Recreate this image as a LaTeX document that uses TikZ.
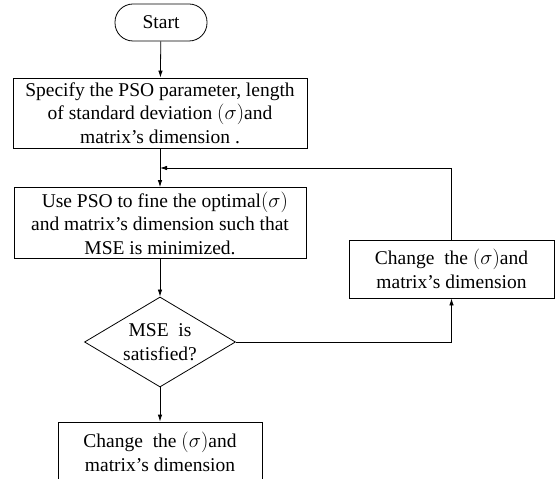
\documentclass[tikz,border=0pt]{standalone}
\usepackage{amsmath}
\usepackage{fontspec}
\setmainfont{Liberation Serif}
\usetikzlibrary{arrows.meta,shapes.geometric}

\begin{document}
\begin{tikzpicture}[x=1bp,y=-1bp,font=\fontsize{19.5bp}{23.5bp}\selectfont,
	>={Latex[length=7bp,width=4.5bp]},line width=0.8bp,
	box/.style={draw,align=center,inner sep=0pt},
	test/.style={draw,diamond,aspect=1.68,inner sep=0pt,align=center,minimum width=151bp,minimum height=90bp}]
	\useasboundingbox (0,0) rectangle (555,479);
	\clip (0,0) rectangle (555,479);
	\node[box,rounded corners=18bp,minimum width=92bp,minimum height=37bp] (start) at (161,22.5) {Start};
	\node[box,minimum width=294bp,minimum height=70bp] (spec) at (160,113)
		{Specify the PSO parameter, length\\ of standard deviation $(\sigma)$and\\ matrix's dimension .};
	\node[box,minimum width=292bp,minimum height=71bp] (pso) at (160,223)
		{\ \ Use PSO to fine the optimal$\left(\sigma\right)$\\ and matrix's dimension such that\\ MSE is minimized.};
	\node[test] (check) at (160,342) {MSE\ \ is\\ satisfied?};
	\node[box,minimum width=205bp,minimum height=58bp] (change) at (451.5,269)
		{Change\ \ the $\left(\sigma\right)$and\\ matrix's dimension};
	\node[box,minimum width=204bp,minimum height=60bp] (result) at (160,452)
		{Change\ \ the $\left(\sigma\right)$and\\ matrix's dimension};
	\coordinate (join) at (160,168);
	\draw[->] (start) -- (spec);
	\draw[->] (spec) -- (pso);
	\draw[->] (change.north) |- (join);
	\draw[->] (pso) -- (check);
	\draw[->] (check.east) -| (change.south);
	\draw[->] (check) -- (result);
\end{tikzpicture}
\end{document}
